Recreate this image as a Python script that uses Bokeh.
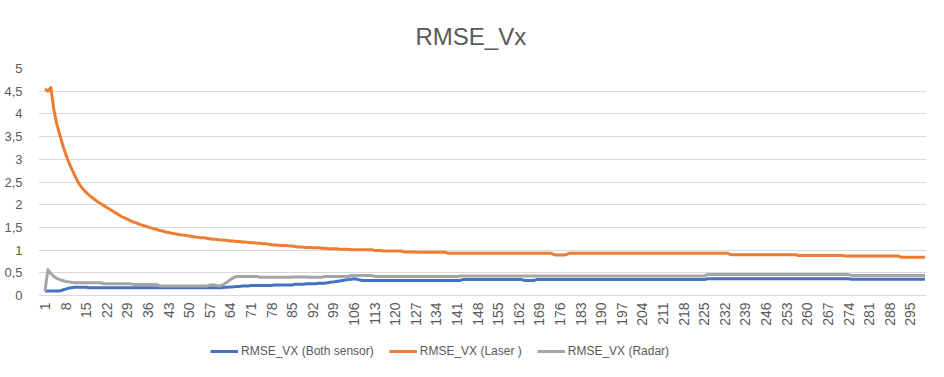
import math
from bokeh.plotting import figure
from bokeh.models import ColumnDataSource, FixedTicker, CustomJSTickFormatter, Legend, LegendItem
from bokeh.core.properties import value
from bokeh.embed import file_html
from bokeh.resources import INLINE

title_text = "RMSE_Vx"
series_names = ["RMSE_VX (Both sensor)", "RMSE_VX (Laser )", "RMSE_VX (Radar)"]
x_ticks = list(range(1, 301, 7))
x_tick_labels = [str(t) for t in x_ticks]
y_ticks = [0, 0.5, 1, 1.5, 2, 2.5, 3, 3.5, 4, 4.5, 5]
steps = list(range(1, 301))

laser = [
    4.55, 4.50, 4.58, 4.10, 3.78, 3.55, 3.32, 3.12, 2.95, 2.80,
    2.66, 2.53, 2.42, 2.34, 2.27, 2.21, 2.16, 2.11, 2.06, 2.02,
    1.98, 1.94, 1.90, 1.86, 1.82, 1.78, 1.74, 1.71, 1.68, 1.65,
    1.62, 1.60, 1.57, 1.55, 1.53, 1.51, 1.49, 1.47, 1.45, 1.43,
    1.42, 1.40, 1.39, 1.37, 1.36, 1.35, 1.34, 1.33, 1.32, 1.31,
    1.30, 1.29, 1.28, 1.27, 1.27, 1.26, 1.25, 1.24, 1.24, 1.23,
    1.22, 1.22, 1.21, 1.20, 1.20, 1.19, 1.19, 1.18, 1.18, 1.17,
    1.16, 1.16, 1.15, 1.15, 1.14, 1.14, 1.13, 1.12, 1.11, 1.11,
    1.10, 1.10, 1.10, 1.09, 1.09, 1.08, 1.07, 1.07, 1.06, 1.06,
    1.06, 1.05, 1.05, 1.05, 1.04, 1.04, 1.03, 1.03, 1.03, 1.03,
    1.02, 1.02, 1.02, 1.02, 1.01, 1.01, 1.01, 1.01, 1.01, 1.01,
    1.01, 1.01, 0.99, 0.99, 0.99, 0.98, 0.98, 0.98, 0.98, 0.98,
    0.98, 0.98, 0.96, 0.96, 0.96, 0.96, 0.96, 0.95, 0.95, 0.95,
    0.95, 0.95, 0.95, 0.95, 0.95, 0.95, 0.95, 0.93, 0.93, 0.93,
    0.93, 0.93, 0.93, 0.93, 0.93, 0.93, 0.93, 0.93, 0.93, 0.93,
    0.93, 0.93, 0.93, 0.93, 0.93, 0.93, 0.93, 0.93, 0.93, 0.93,
    0.93, 0.93, 0.93, 0.93, 0.93, 0.93, 0.93, 0.93, 0.93, 0.93,
    0.93, 0.93, 0.93, 0.90, 0.89, 0.89, 0.89, 0.90, 0.93, 0.93,
    0.93, 0.93, 0.93, 0.93, 0.93, 0.93, 0.93, 0.93, 0.93, 0.93,
    0.93, 0.93, 0.93, 0.93, 0.93, 0.93, 0.93, 0.93, 0.93, 0.93,
    0.93, 0.93, 0.93, 0.93, 0.93, 0.93, 0.93, 0.93, 0.93, 0.93,
    0.93, 0.93, 0.93, 0.93, 0.93, 0.93, 0.93, 0.93, 0.93, 0.93,
    0.93, 0.93, 0.93, 0.93, 0.93, 0.93, 0.93, 0.93, 0.93, 0.93,
    0.93, 0.93, 0.93, 0.90, 0.90, 0.90, 0.90, 0.90, 0.90, 0.90,
    0.90, 0.90, 0.90, 0.90, 0.90, 0.90, 0.90, 0.90, 0.90, 0.90,
    0.90, 0.90, 0.90, 0.90, 0.90, 0.90, 0.88, 0.88, 0.88, 0.88,
    0.88, 0.88, 0.88, 0.88, 0.88, 0.88, 0.88, 0.88, 0.88, 0.88,
    0.88, 0.88, 0.87, 0.87, 0.87, 0.87, 0.87, 0.87, 0.87, 0.87,
    0.87, 0.87, 0.87, 0.87, 0.87, 0.87, 0.87, 0.87, 0.87, 0.87,
    0.87, 0.84, 0.84, 0.84, 0.84, 0.84, 0.84, 0.84, 0.84, 0.84,
]

both = [
    0.10, 0.10, 0.10, 0.10, 0.10, 0.10, 0.12, 0.14, 0.16, 0.17,
    0.18, 0.18, 0.18, 0.18, 0.18, 0.17, 0.17, 0.17, 0.17, 0.17,
    0.17, 0.17, 0.17, 0.17, 0.17, 0.17, 0.17, 0.17, 0.17, 0.17,
    0.17, 0.17, 0.17, 0.17, 0.17, 0.17, 0.17, 0.17, 0.17, 0.17,
    0.17, 0.17, 0.17, 0.17, 0.17, 0.17, 0.17, 0.17, 0.17, 0.17,
    0.17, 0.17, 0.17, 0.17, 0.17, 0.17, 0.17, 0.17, 0.17, 0.17,
    0.17, 0.18, 0.18, 0.19, 0.19, 0.20, 0.20, 0.21, 0.21, 0.21,
    0.22, 0.22, 0.22, 0.22, 0.22, 0.22, 0.22, 0.22, 0.23, 0.23,
    0.23, 0.23, 0.23, 0.23, 0.23, 0.25, 0.25, 0.25, 0.25, 0.26,
    0.26, 0.26, 0.26, 0.27, 0.27, 0.27, 0.28, 0.29, 0.30, 0.31,
    0.32, 0.33, 0.34, 0.35, 0.36, 0.37, 0.36, 0.34, 0.33, 0.33,
    0.33, 0.33, 0.33, 0.33, 0.33, 0.33, 0.33, 0.33, 0.33, 0.33,
    0.33, 0.33, 0.33, 0.33, 0.33, 0.33, 0.33, 0.33, 0.33, 0.33,
    0.33, 0.33, 0.33, 0.33, 0.33, 0.33, 0.33, 0.33, 0.33, 0.33,
    0.33, 0.33, 0.35, 0.35, 0.35, 0.35, 0.35, 0.35, 0.35, 0.35,
    0.35, 0.35, 0.35, 0.35, 0.35, 0.35, 0.35, 0.35, 0.35, 0.35,
    0.35, 0.35, 0.35, 0.33, 0.33, 0.33, 0.33, 0.35, 0.35, 0.35,
    0.35, 0.35, 0.35, 0.35, 0.35, 0.35, 0.35, 0.35, 0.35, 0.35,
    0.35, 0.35, 0.35, 0.35, 0.35, 0.35, 0.35, 0.35, 0.35, 0.35,
    0.35, 0.35, 0.35, 0.35, 0.35, 0.35, 0.35, 0.35, 0.35, 0.35,
    0.35, 0.35, 0.35, 0.35, 0.35, 0.35, 0.35, 0.35, 0.35, 0.35,
    0.35, 0.35, 0.35, 0.35, 0.35, 0.35, 0.35, 0.35, 0.35, 0.35,
    0.35, 0.35, 0.35, 0.35, 0.35, 0.37, 0.37, 0.37, 0.37, 0.37,
    0.37, 0.37, 0.37, 0.37, 0.37, 0.37, 0.37, 0.37, 0.37, 0.37,
    0.37, 0.37, 0.37, 0.37, 0.37, 0.37, 0.37, 0.37, 0.37, 0.37,
    0.37, 0.37, 0.37, 0.37, 0.37, 0.37, 0.37, 0.37, 0.37, 0.37,
    0.37, 0.37, 0.37, 0.37, 0.37, 0.37, 0.37, 0.37, 0.37, 0.37,
    0.37, 0.37, 0.37, 0.37, 0.36, 0.36, 0.36, 0.36, 0.36, 0.36,
    0.36, 0.36, 0.36, 0.36, 0.36, 0.36, 0.36, 0.36, 0.36, 0.36,
    0.36, 0.36, 0.36, 0.36, 0.36, 0.36, 0.36, 0.36, 0.36, 0.36,
]

radar = [
    0.10, 0.57, 0.48, 0.42, 0.38, 0.35, 0.33, 0.31, 0.30, 0.29,
    0.28, 0.28, 0.28, 0.28, 0.28, 0.28, 0.28, 0.28, 0.28, 0.28,
    0.26, 0.26, 0.26, 0.26, 0.26, 0.26, 0.26, 0.26, 0.26, 0.26,
    0.24, 0.24, 0.24, 0.24, 0.24, 0.24, 0.24, 0.24, 0.24, 0.21,
    0.21, 0.21, 0.21, 0.21, 0.21, 0.21, 0.21, 0.21, 0.21, 0.21,
    0.21, 0.21, 0.21, 0.21, 0.21, 0.21, 0.23, 0.24, 0.23, 0.21,
    0.22, 0.26, 0.30, 0.35, 0.39, 0.42, 0.42, 0.42, 0.42, 0.42,
    0.42, 0.42, 0.42, 0.40, 0.40, 0.40, 0.40, 0.40, 0.40, 0.40,
    0.40, 0.40, 0.40, 0.40, 0.41, 0.41, 0.41, 0.41, 0.41, 0.41,
    0.40, 0.40, 0.40, 0.40, 0.40, 0.42, 0.42, 0.42, 0.42, 0.42,
    0.42, 0.42, 0.42, 0.42, 0.44, 0.44, 0.44, 0.44, 0.44, 0.44,
    0.44, 0.44, 0.42, 0.42, 0.42, 0.42, 0.42, 0.42, 0.42, 0.42,
    0.42, 0.42, 0.42, 0.42, 0.42, 0.42, 0.42, 0.42, 0.42, 0.42,
    0.42, 0.42, 0.42, 0.42, 0.42, 0.42, 0.42, 0.42, 0.42, 0.42,
    0.42, 0.43, 0.43, 0.43, 0.43, 0.43, 0.43, 0.43, 0.43, 0.43,
    0.43, 0.43, 0.43, 0.43, 0.43, 0.43, 0.43, 0.43, 0.43, 0.43,
    0.43, 0.43, 0.43, 0.43, 0.43, 0.43, 0.43, 0.43, 0.43, 0.43,
    0.43, 0.43, 0.43, 0.43, 0.43, 0.43, 0.43, 0.43, 0.43, 0.43,
    0.43, 0.43, 0.43, 0.43, 0.43, 0.43, 0.43, 0.43, 0.43, 0.43,
    0.43, 0.43, 0.43, 0.43, 0.43, 0.43, 0.43, 0.43, 0.43, 0.43,
    0.43, 0.43, 0.43, 0.43, 0.43, 0.43, 0.43, 0.43, 0.43, 0.43,
    0.43, 0.43, 0.43, 0.43, 0.43, 0.43, 0.43, 0.43, 0.43, 0.43,
    0.43, 0.43, 0.43, 0.43, 0.43, 0.46, 0.46, 0.46, 0.46, 0.46,
    0.46, 0.46, 0.46, 0.46, 0.46, 0.46, 0.46, 0.46, 0.46, 0.46,
    0.46, 0.46, 0.46, 0.46, 0.46, 0.46, 0.46, 0.46, 0.46, 0.46,
    0.46, 0.46, 0.46, 0.46, 0.46, 0.46, 0.46, 0.46, 0.46, 0.46,
    0.46, 0.46, 0.46, 0.46, 0.46, 0.46, 0.46, 0.46, 0.46, 0.46,
    0.46, 0.46, 0.46, 0.46, 0.44, 0.44, 0.44, 0.44, 0.44, 0.44,
    0.44, 0.44, 0.44, 0.44, 0.44, 0.44, 0.44, 0.44, 0.44, 0.44,
    0.44, 0.44, 0.44, 0.44, 0.44, 0.44, 0.44, 0.44, 0.44, 0.44,
]

colors = ["#4472C4", "#ED7D31", "#A5A5A5"]
TEXT = "#595959"
FONT = "Liberation Sans"

src = ColumnDataSource(dict(step=steps, both=both, laser=laser, radar=radar))
tick_src = ColumnDataSource(dict(x=x_ticks, y=[0] * len(x_ticks), label=x_tick_labels))

# frame extends below y=0 to host the category labels and the legend
p = figure(frame_width=888, frame_height=308, output_backend="svg", toolbar_location=None,
           x_range=(-1.199, 300.5), y_range=(-1.784, 5), x_axis_location=None,
           min_border_left=38, min_border_right=17, min_border_top=68, min_border_bottom=0)

p.title.text = title_text
p.title.align = "left"
p.title.offset = 377
p.title.standoff = 38
p.title.text_font = FONT
p.title.text_font_size = "24px"
p.title.text_font_style = "normal"
p.title.text_color = TEXT

p.outline_line_color = None
p.background_fill_color = "white"
p.border_fill_color = "white"

p.xgrid.visible = False
p.ygrid.grid_line_color = "#D9D9D9"
p.ygrid.grid_line_width = 1
p.ygrid.ticker = FixedTicker(ticks=y_ticks)

renderers = []
for col, c in zip(["both", "laser", "radar"], colors):
    r = p.line("step", col, source=src, line_color=c, line_width=3, line_join="round")
    renderers.append(r)

p.yaxis.ticker = FixedTicker(ticks=y_ticks)
p.yaxis.formatter = CustomJSTickFormatter(code="return tick.toString().replace('.', ',');")
p.yaxis.axis_line_color = None
p.yaxis.major_tick_line_color = None
p.yaxis.minor_tick_line_color = None
p.yaxis.major_label_text_font = FONT
p.yaxis.major_label_text_font_size = "13px"
p.yaxis.major_label_text_color = TEXT
p.yaxis.major_label_standoff = 10

# category axis labels, rotated
p.text(x="x", y="y", text="label", source=tick_src, angle=math.pi / 2,
       text_align="right", text_baseline="middle", y_offset=7,
       text_font=value(FONT), text_font_size=value("14px"), text_color=TEXT)

legend = Legend(items=[LegendItem(label=n, renderers=[r]) for n, r in zip(series_names, renderers)],
                orientation="horizontal", location=(172, 18),
                border_line_color=None, background_fill_alpha=0,
                label_text_font=FONT, label_text_font_size="12px", label_text_color=TEXT,
                glyph_width=28, glyph_height=14, label_height=14, label_standoff=3, spacing=15,
                padding=0, margin=0)
p.add_layout(legend, "center")

open("out.html", "w").write(file_html(p, INLINE))
